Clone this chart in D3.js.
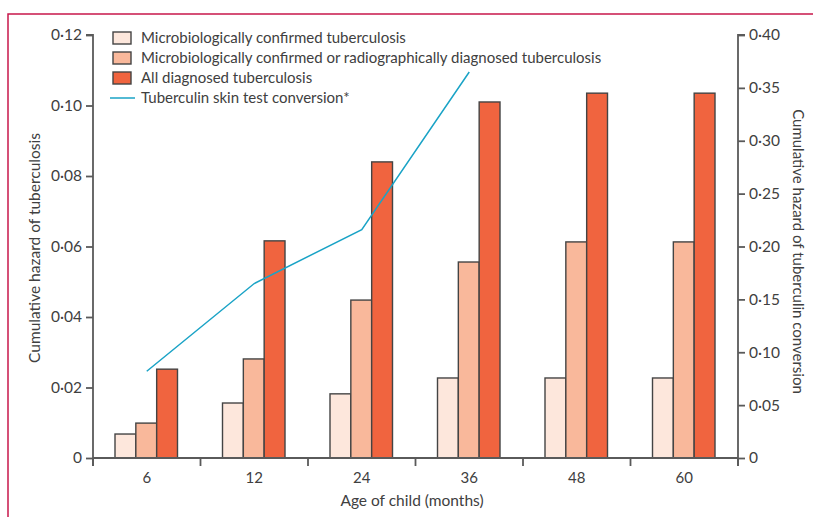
<!DOCTYPE html>
<html>
<head>
<meta charset="utf-8">
<script src="https://cdn.jsdelivr.net/npm/d3@7"></script>
<style>
  html, body { margin: 0; padding: 0; background: #fff; }
  svg { display: block; font-family: Lato, "Open Sans", sans-serif; }
</style>
</head>
<body>
<svg id="chart" width="813" height="517"></svg>
<script>
const ages = ["6", "12", "24", "36", "48", "60"];
const seriesNames = [
  "Microbiologically confirmed tuberculosis",
  "Microbiologically confirmed or radiographically diagnosed tuberculosis",
  "All diagnosed tuberculosis"
];
const microConfirmed = [0.0068, 0.0156, 0.0182, 0.0227, 0.0227, 0.0227];
const microOrRadio   = [0.0099, 0.0281, 0.0448, 0.0556, 0.0613, 0.0613];
const allDiagnosed   = [0.0252, 0.0616, 0.0840, 0.1010, 0.1035, 0.1035];
const tstAges = ["6", "12", "24", "36"];
const tstConversion = [0.082, 0.165, 0.216, 0.365];
const leftTicks = [0, 0.02, 0.04, 0.06, 0.08, 0.10, 0.12];
const rightTicks = [0, 0.05, 0.10, 0.15, 0.20, 0.25, 0.30, 0.35, 0.40];
const colors = ["#fde7dc", "#f9b89b", "#f0643f"];
const lineColor = "#1aa3c6";

const svg = d3.select("#chart");
const L = 93, R = 738, T = 35, B = 458;
const textColor = "#404040", axisColor = "#5a5a5a";

// frame
svg.append("path").attr("d", "M8,517 V14 H813").attr("fill", "none")
  .attr("stroke", "#c8174b").attr("stroke-width", 1.5);

const x0 = d3.scaleBand().domain(ages).range([L, R]).padding(0);
const x1 = d3.scaleBand().domain(d3.range(3)).range([22, x0.bandwidth() - 23]).padding(0);
const yL = d3.scaleLinear().domain([0, 0.12]).range([B, T]);
const yR = d3.scaleLinear().domain([0, 0.40]).range([B, T]);

const fmt = d => d === 0 ? "0" : d3.format(".2f")(d).replace(".", "\u00b7");

// bars
const seriesData = [microConfirmed, microOrRadio, allDiagnosed];
const groups = svg.append("g").selectAll("g").data(ages).join("g")
  .attr("transform", d => `translate(${x0(d)},0)`);
groups.selectAll("rect").data((d, i) => seriesData.map((s, k) => ({k, v: s[i]}))).join("rect")
  .attr("x", d => x1(d.k)).attr("width", x1.bandwidth())
  .attr("y", d => yL(d.v)).attr("height", d => B - yL(d.v))
  .attr("fill", d => colors[d.k]).attr("stroke", "#444").attr("stroke-width", 1.4);

// x axis
const xAxis = svg.append("g").attr("transform", `translate(0,${B})`);
xAxis.append("line").attr("x1", L).attr("x2", R).attr("y1", 0).attr("y2", 0)
  .attr("stroke", axisColor).attr("stroke-width", 1.8);
const xb = ages.map(a => x0(a)).concat([R]);
xAxis.selectAll("line.tk").data(xb).join("line").attr("class", "tk")
  .attr("x1", d => d).attr("x2", d => d).attr("y1", 0).attr("y2", 8)
  .attr("stroke", axisColor).attr("stroke-width", 1.8);
xAxis.selectAll("text").data(ages).join("text")
  .attr("x", d => x0(d) + x0.bandwidth() / 2).attr("y", 25)
  .attr("text-anchor", "middle").attr("font-size", 15).attr("fill", textColor).text(d => d);

// left axis
const la = svg.append("g").attr("transform", `translate(${L},0)`)
  .call(d3.axisLeft(yL).tickValues(leftTicks).tickFormat(fmt).tickSize(7).tickSizeOuter(7).tickPadding(4));
la.select(".domain").attr("stroke", axisColor).attr("stroke-width", 1.8).attr("d", `M-7,${T}H0V${B + 8}`);
la.selectAll(".tick line").attr("stroke", axisColor).attr("stroke-width", 1.8);
la.selectAll(".tick text").attr("font-size", 15.5).attr("fill", textColor).attr("font-family", "Lato, sans-serif");

// right axis
const ra = svg.append("g").attr("transform", `translate(${R},0)`)
  .call(d3.axisRight(yR).tickValues(rightTicks).tickFormat(fmt).tickSize(7).tickSizeOuter(7).tickPadding(4));
ra.select(".domain").attr("stroke", axisColor).attr("stroke-width", 1.8).attr("d", `M7,${T}H0V${B + 8}`);
ra.selectAll(".tick line").attr("stroke", axisColor).attr("stroke-width", 1.8);
ra.selectAll(".tick text").attr("font-size", 15.5).attr("fill", textColor).attr("font-family", "Lato, sans-serif");

// line
svg.append("path").datum(tstConversion)
  .attr("fill", "none").attr("stroke", lineColor).attr("stroke-width", 1.5)
  .attr("d", d3.line().x((d, i) => x0(tstAges[i]) + x0.bandwidth() / 2).y(d => yR(d)));

// axis titles
svg.append("text").attr("transform", `translate(40,248) rotate(-90)`)
  .attr("text-anchor", "middle").attr("font-size", 15.5).attr("fill", textColor)
  .text("Cumulative hazard of tuberculosis");
svg.append("text").attr("transform", `translate(793,${(T + B) / 2 + 5}) rotate(90)`)
  .attr("text-anchor", "middle").attr("font-size", 15).attr("fill", textColor)
  .text("Cumulative hazard of tuberculin conversion");
svg.append("text").attr("x", 412).attr("y", 506).attr("text-anchor", "middle")
  .attr("font-size", 15.5).attr("fill", textColor).text("Age of child (months)");

// legend
const leg = svg.append("g").attr("transform", "translate(113,32)");
seriesNames.forEach((n, i) => {
  leg.append("rect").attr("x", 0).attr("y", i * 20).attr("width", 18).attr("height", 12)
    .attr("fill", colors[i]).attr("stroke", "#444").attr("stroke-width", 1.4);
  leg.append("text").attr("x", 28).attr("y", i * 20 + 11).attr("font-size", 15)
    .attr("fill", textColor).text(n);
});
leg.append("line").attr("x1", -3).attr("x2", 22).attr("y1", 66).attr("y2", 66)
  .attr("stroke", lineColor).attr("stroke-width", 1.5);
leg.append("text").attr("x", 28).attr("y", 71).attr("font-size", 15)
  .attr("fill", textColor).text("Tuberculin skin test conversion*");
</script>
</body>
</html>
